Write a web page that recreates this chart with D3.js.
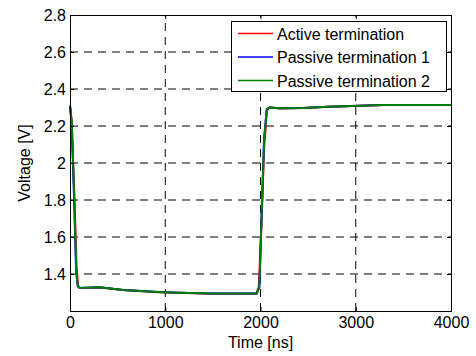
<!DOCTYPE html>
<html>
<head>
<meta charset="utf-8">
<script src="https://cdn.jsdelivr.net/npm/d3@7"></script>
<style>
  body { margin: 0; background: #fff; }
  svg text { font-family: "Liberation Sans", Arial, sans-serif; font-size: 16px; fill: #000; }
</style>
</head>
<body>
<svg id="chart" width="476" height="356"></svg>
<script>
// series names / colours
const seriesNames = ["Active termination", "Passive termination 1", "Passive termination 2"];
const seriesColors = ["#ff0000", "#0000ff", "#008000"];

// time in ns, voltage in V
const timeActive = [0, 16, 47, 69, 85, 104, 315, 557, 753, 925, 1134, 1502, 1955, 1982, 2014, 2038, 2068, 2095, 2205, 2450, 2710, 2960, 3290, 4000];
const voltActive = [2.31, 2.23, 1.81, 1.44, 1.335, 1.325, 1.327, 1.313, 1.307, 1.302, 1.298, 1.293, 1.293, 1.33, 1.72, 2.08, 2.285, 2.30, 2.295, 2.297, 2.304, 2.308, 2.314, 2.314];
const timePassive1 = [0, 18, 43, 64, 80, 98, 315, 557, 753, 925, 1134, 1502, 1961, 1989, 2017, 2037, 2065, 2092, 2205, 2450, 2710, 2960, 3290, 4000];
const voltPassive1 = [2.31, 2.21, 1.80, 1.42, 1.335, 1.325, 1.328, 1.314, 1.308, 1.303, 1.299, 1.294, 1.294, 1.33, 1.80, 2.13, 2.29, 2.30, 2.296, 2.297, 2.304, 2.308, 2.314, 2.314];
const timePassive2 = [0, 20, 45, 66, 82, 100, 315, 557, 753, 925, 1134, 1502, 1960, 1988, 2017, 2038, 2066, 2093, 2205, 2450, 2710, 2960, 3290, 4000];
const voltPassive2 = [2.31, 2.22, 1.80, 1.42, 1.335, 1.325, 1.328, 1.314, 1.308, 1.303, 1.299, 1.294, 1.294, 1.33, 1.80, 2.12, 2.29, 2.30, 2.296, 2.297, 2.304, 2.308, 2.314, 2.314];

// axis ticks
const xTicks = [0, 1000, 2000, 3000, 4000];
const yTicks = [1.4, 1.6, 1.8, 2, 2.2, 2.4, 2.6, 2.8];

const series = [
  { name: seriesNames[0], color: seriesColors[0], t: timeActive, v: voltActive },
  { name: seriesNames[1], color: seriesColors[1], t: timePassive1, v: voltPassive1 },
  { name: seriesNames[2], color: seriesColors[2], t: timePassive2, v: voltPassive2 }
];

// plot box
const pLeft = 70, pRight = 451, pTop = 15, pBottom = 311;

const x = d3.scaleLinear().domain([0, 4000]).range([pLeft, pRight]);
const y = d3.scaleLinear().domain([1.2, 2.8]).range([pBottom, pTop]);

const svg = d3.select("#chart");

// grid (dashed)
const grid = svg.append("g").attr("stroke", "#000").attr("stroke-width", 1).attr("stroke-dasharray", "8,6");
grid.selectAll(".gx").data(xTicks.slice(1, -1)).enter().append("line")
  .attr("x1", d => x(d)).attr("x2", d => x(d)).attr("y1", pBottom).attr("y2", pTop);
grid.selectAll(".gy").data(yTicks.slice(0, -1)).enter().append("line")
  .attr("x1", pLeft).attr("x2", pRight).attr("y1", d => y(d)).attr("y2", d => y(d));

// curves
const line = d3.line().x(d => x(d[0])).y(d => y(d[1]));
svg.append("g").selectAll("path").data(series).enter().append("path")
  .attr("d", s => line(s.t.map((t, i) => [t, s.v[i]])))
  .attr("fill", "none")
  .attr("stroke", s => s.color)
  .attr("stroke-width", 2)
  .attr("stroke-linejoin", "round");

// axes, ticks pointing inward (matlab style)
svg.append("g").attr("transform", `translate(0,${pBottom})`)
  .call(d3.axisBottom(x).tickValues(xTicks).tickFormat(d3.format("d")).tickSize(-4).tickPadding(6));
svg.append("g").attr("transform", `translate(0,${pTop})`)
  .call(d3.axisTop(x).tickValues(xTicks).tickFormat("").tickSize(-4));
svg.append("g").attr("transform", `translate(${pLeft},0)`)
  .call(d3.axisLeft(y).tickValues(yTicks).tickFormat(d => String(d)).tickSize(-4).tickPadding(4));
svg.append("g").attr("transform", `translate(${pRight},0)`)
  .call(d3.axisRight(y).tickValues(yTicks).tickFormat("").tickSize(-4));

svg.selectAll(".domain").attr("stroke", "#000");
svg.selectAll(".tick line").attr("stroke", "#000");
svg.selectAll(".tick text").style("font-family", "Liberation Sans, Arial, sans-serif").style("font-size", "16px").attr("fill", "#000");

// axis labels
svg.append("text")
  .attr("x", (pLeft + pRight) / 2).attr("y", 348)
  .attr("text-anchor", "middle")
  .text("Time [ns]");
svg.append("text")
  .attr("transform", `translate(30,${(pTop + pBottom) / 2}) rotate(-90)`)
  .attr("text-anchor", "middle")
  .text("Voltage [V]");

// legend
const legend = svg.append("g");
legend.append("rect")
  .attr("x", 231.5).attr("y", 21.5).attr("width", 215).attr("height", 70)
  .attr("fill", "#fff").attr("stroke", "#000");
const rows = legend.selectAll(".row").data(series).enter().append("g")
  .attr("transform", (d, i) => `translate(0,${33.5 + i * 23.5})`);
rows.append("line").attr("x1", 238).attr("x2", 273).attr("y1", 0).attr("y2", 0)
  .attr("stroke", d => d.color).attr("stroke-width", 1.5);
rows.append("text").attr("x", 277).attr("y", 6).text(d => d.name);
</script>
</body>
</html>
